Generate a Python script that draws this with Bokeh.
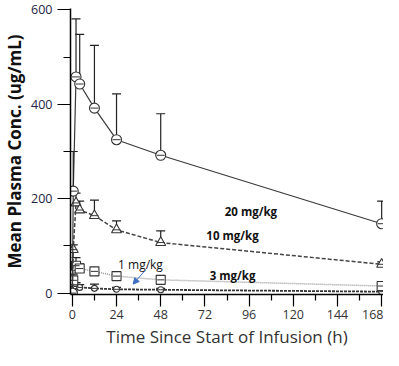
from bokeh.plotting import figure
from bokeh.models import FixedTicker, Range1d, Arrow, NormalHead, ColumnDataSource
from bokeh.core.properties import value
from bokeh.embed import file_html
from bokeh.resources import INLINE

# ---- data ----
times = [0, 0.5, 2, 4, 12, 24, 48, 168]

conc_20 = [0, 216, 458, 443, 392, 325, 292, 147]
upper_20 = [0, 300, 581, 548, 525, 422, 380, 195]

conc_10 = [0, 92, 191, 176, 164, 134, 107, 61]
upper_10 = [0, 102, 212, 195, 197, 153, 132, 66]

conc_3 = [0, 27, 58, 52, 46, 36, 28, 15]
upper_3 = [0, 40, 75, 62, 52, 42, 33, 20]

conc_1 = [0, 8, 14, 12, 10, 8, 7, 3]
upper_1 = [0, 14, 22, 18, 19, 12, 10, 5]

x_ticks = [0, 24, 48, 72, 96, 120, 144, 168]
x_minor = [12, 36, 60, 84, 108, 132, 156]
y_ticks = [0, 200, 400, 600]
y_minor = [100, 300, 500]

label_text = ["20 mg/kg", "10 mg/kg", "3 mg/kg"]
label_x = [97, 87, 87]
label_y = [172, 122, 38]

# ---- figure ----
p = figure(width=383, height=350, output_backend="svg", toolbar_location=None,
           x_range=Range1d(-1, 169), y_range=Range1d(-3, 603),
           min_border_left=66, min_border_right=0, min_border_top=8,
           min_border_bottom=54)
p.outline_line_color = None
p.xgrid.visible = False
p.ygrid.visible = False
p.background_fill_color = "white"

p.xaxis.ticker = FixedTicker(ticks=x_ticks, minor_ticks=x_minor)
p.yaxis.ticker = FixedTicker(ticks=y_ticks, minor_ticks=y_minor)

for ax in (p.xaxis[0], p.yaxis[0]):
    ax.axis_line_color = "black"
    ax.axis_line_width = 1.5
    ax.major_tick_line_color = "black"
    ax.minor_tick_line_color = "black"
    ax.major_tick_in = 0
    ax.minor_tick_in = 0
    ax.major_tick_line_width = 1.2
    ax.minor_tick_line_width = 1.2

p.xaxis.major_tick_out = 12
p.xaxis.minor_tick_out = 6
p.xaxis.major_label_standoff = 3
p.xaxis.major_label_text_font = "Open Sans"
p.xaxis.major_label_text_font_size = "12.5px"
p.xaxis.major_label_text_color = "#333333"
p.xaxis.axis_label = "Time Since Start of Infusion (h)"
p.xaxis.axis_label_text_font = "Open Sans"
p.xaxis.axis_label_text_font_style = "normal"
p.xaxis.axis_label_text_font_size = "17px"
p.xaxis.axis_label_text_color = "#333333"
p.xaxis.axis_label_standoff = 3

p.yaxis.major_tick_out = 13
p.yaxis.minor_tick_out = 7
p.yaxis.major_label_standoff = 5
p.yaxis.major_label_text_font = "Open Sans"
p.yaxis.major_label_text_font_size = "12.5px"
p.yaxis.major_label_text_color = "#1f2544"
p.yaxis.axis_label = "Mean Plasma Conc. (ug/mL)"
p.yaxis.axis_label_text_font = "Open Sans"
p.yaxis.axis_label_text_font_style = "bold"
p.yaxis.axis_label_text_font_size = "17px"
p.yaxis.axis_label_text_color = "#111111"
p.yaxis.axis_label_standoff = 2

series = [
    (conc_1, upper_1, "circle", 6, "#333333", "3 1", 1.8),
    (conc_3, upper_3, "square", 9, "#999999", "1 1", 1.5),
    (conc_10, upper_10, "triangle", 10, "#444444", "4 2", 1.5),
    (conc_20, upper_20, "circle", 10, "#3a3a3a", "solid", 1.2),
]

for conc, upper, marker, size, lcol, dash, lw in series:
    src = ColumnDataSource(dict(t=times, c=conc, u=upper))
    p.line("t", "c", source=src, line_color=lcol, line_dash=dash, line_width=lw)
    p.segment(x0="t", y0="c", x1="t", y1="u", source=src,
              line_color="#222222", line_width=1.2)
    p.scatter("t", "u", source=src, marker="dash", size=9,
              line_color="#222222", line_width=1.2)
    p.scatter("t", "c", source=src, marker=marker, size=size,
              fill_color="white", line_color="#333333", line_width=1.1)
    p.scatter("t", "c", source=src, marker="dash", size=size * 0.8,
              line_color="#333333", line_width=1)

p.text(x=label_x, y=label_y, text=label_text, text_align="center",
       text_baseline="middle", text_font=value("Open Sans"),
       text_font_size="11.5px", text_font_style="bold", text_color="#111111")

p.text(x=[37], y=[61], text=["1 mg/kg"], text_align="center",
       text_baseline="middle", text_font=value("Open Sans"),
       text_font_size="12px", text_color="#111111")

p.add_layout(Arrow(end=NormalHead(size=6, fill_color="#3d6fc0", line_color="#3d6fc0"),
                   x_start=39.5, y_start=48, x_end=33, y_end=19,
                   line_color="#3d6fc0", line_width=1))

open("out.html", "w").write(file_html(p, INLINE))
